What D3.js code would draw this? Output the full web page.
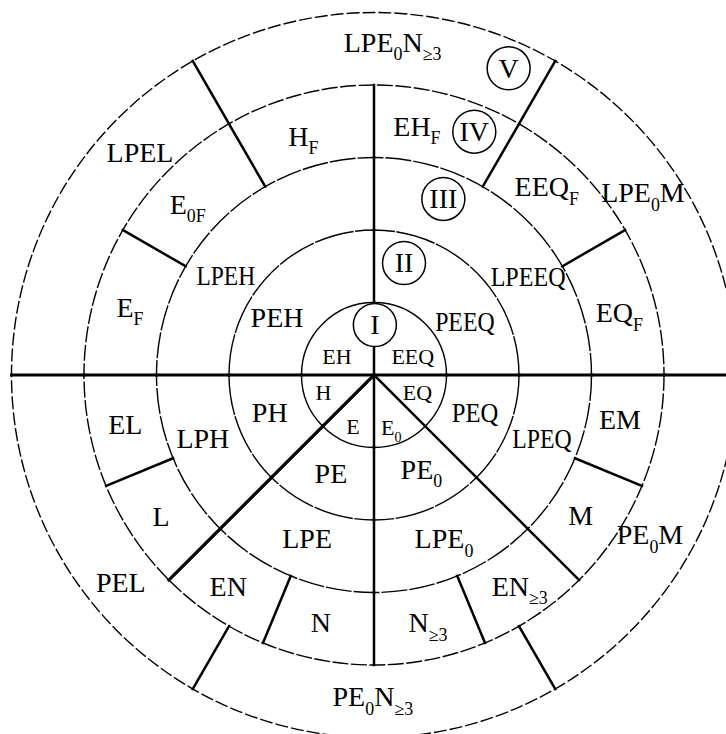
<!DOCTYPE html>
<html><head><meta charset="utf-8">
<script src="https://cdn.jsdelivr.net/npm/d3@7"></script>
<style>html,body{margin:0;padding:0;background:#fff;} svg{display:block;}</style>
</head><body>
<svg id="chart" width="726" height="734"></svg>
<script>
// ---- data: concentric rings I..V, sector boundaries (deg, clockwise from top) and sector labels
const ringNames = ["I", "II", "III", "IV", "V"];
const ring1Bounds = [0, 90, 135, 180, 225, 270];
const ring1Labels = ["EEQ", "EQ", "E_{0}", "E", "H", "EH"];
const ring2Bounds = [0, 90, 135, 180, 225, 270];
const ring2Labels = ["PEEQ", "PEQ", "PE_{0}", "PE", "PH", "PEH"];
const ring3Bounds = [0, 90, 135, 180, 225, 270];
const ring3Labels = ["LPEEQ", "LPEQ", "LPE_{0}", "LPE", "LPH", "LPEH"];
const ring4Bounds = [0, 30, 60, 90, 112.5, 135, 157.5, 180, 202.5, 225, 247.5, 270, 300, 330];
const ring4Labels = ["EH_{F}", "EEQ_{F}", "EQ_{F}", "EM", "M", "EN_{≥3}", "N_{≥3}", "N", "EN", "L", "EL", "E_{F}", "E_{0F}", "H_{F}"];
const ring5Bounds = [-30, 30, 90, 150, 210, 270];
const ring5Labels = ["LPE_{0}N_{≥3}", "LPE_{0}M", "PE_{0}M", "PE_{0}N_{≥3}", "PEL", "LPEL"];

// ---- layout: label placement (angle deg, radius in ring units, horizontal squeeze)
const ring1Place = [[65, 0.59, 1], [112.7, 0.65, 1], [162, 0.77, 1], [202, 0.77, 1], [250.6, 0.74, 1], [296, 0.57, 1]];
const ring2Place = [[59.8, 1.45, 0.85], [110.6, 1.49, 0.88], [153.4, 1.46, 1], [203.5, 1.49, 1], [250, 1.53, 1], [300.4, 1.55, 1]];
const ring3Place = [[57.5, 2.52, 0.86], [110.9, 2.48, 0.85], [156.9, 2.46, 1], [202.2, 2.44, 1], [249.5, 2.52, 1], [303.8, 2.46, 0.84]];
const ring4Place = [[9.8, 3.48, 1], [42.6, 3.52, 1], [75.8, 3.49, 1], [100.4, 3.45, 1], [124.3, 3.45, 1], [145.4, 3.54, 1], [167.7, 3.5, 1],
                    [192.1, 3.5, 1], [214.6, 3.54, 1], [236.3, 3.53, 1], [258.6, 3.5, 1], [285.4, 3.49, 1], [312.4, 3.48, 1], [343.5, 3.43, 1]];
const ring5Place = [[3.2, 4.59, 1], [55.9, 4.48, 1], [120.1, 4.4, 1], [180.2, 4.44, 1], [230.6, 4.52, 1], [313.5, 4.45, 1]];
const romanPlace = [[1, 0.69], [15, 1.6], [21.5, 2.61], [22.4, 3.63], [23.7, 4.62]];

const cx = 374, cy = 375;
const svg = d3.select("#chart");
const g = svg.append("g").attr("transform", `translate(${cx},${cy})`);
const rScale = d3.scaleLinear().domain([0, 5]).range([0, 362.5]);
const rad = d => d * Math.PI / 180;
const pt = (deg, r) => d3.pointRadial(rad(deg), r);

const rings = [
  {bounds: ring1Bounds, labels: ring1Labels, place: ring1Place},
  {bounds: ring2Bounds, labels: ring2Labels, place: ring2Place},
  {bounds: ring3Bounds, labels: ring3Labels, place: ring3Place},
  {bounds: ring4Bounds, labels: ring4Labels, place: ring4Place},
  {bounds: ring5Bounds, labels: ring5Labels, place: ring5Place}
];

// circles
const dashes = [null, "40,1.5", "26,2", "16,2.5", "13,3"];
g.selectAll("circle.ring").data(d3.range(1, 6)).join("circle")
  .attr("class", "ring").attr("r", d => rScale(d))
  .attr("fill", "none").attr("stroke", "#000").attr("stroke-width", 1.4)
  .attr("stroke-dasharray", d => dashes[d - 1]);

// radial boundary lines
const segs = [];
rings.forEach((ring, i) => ring.bounds.forEach(a => segs.push({a: a, r0: rScale(i), r1: rScale(i + 1)})));
const lw = a => { const n = ((a % 360) + 360) % 360; return (n === 90 || n === 270) ? 3 : (n === 225 ? 3.2 : 2.5); };
g.selectAll("line.rad").data(segs).join("line")
  .attr("class", "rad")
  .attr("x1", d => pt(d.a, d.r0)[0]).attr("y1", d => pt(d.a, d.r0)[1])
  .attr("x2", d => pt(d.a, d.r1)[0]).attr("y2", d => pt(d.a, d.r1)[1])
  .attr("stroke", "#000").attr("stroke-width", d => lw(d.a)).attr("stroke-linecap", "square");

// label parsing: "LPE_{0}N_{≥3}"
function parse(s) {
  const out = []; const re = /_\{([^}]*)\}|([^_]+)/g; let m;
  while ((m = re.exec(s))) { if (m[1] !== undefined) out.push({t: m[1], sub: true}); else out.push({t: m[2], sub: false}); }
  return out;
}
const fontFam = "'Liberation Serif', 'Times New Roman', serif";
function drawLabel(label, deg, ru, sx, fs) {
  const p = pt(deg, rScale(ru));
  const t = g.append("g").attr("transform", `translate(${p[0]},${p[1]}) scale(${sx},1)`)
    .append("text").attr("x", 0).attr("y", 0.33 * fs)
    .attr("text-anchor", "middle").attr("font-family", fontFam).attr("font-size", fs).attr("fill", "#000");
  let shifted = false;
  parse(label).forEach(part => {
    const ts = t.append("tspan").text(part.t);
    if (part.sub) {
      ts.attr("font-size", fs * 0.64).attr("dy", shifted ? 0 : fs * 0.3);
      shifted = true;
    } else {
      if (shifted) ts.attr("dy", -fs * 0.3);
      shifted = false;
    }
  });
}

rings.forEach((ring, i) => {
  const fs = i === 0 ? 22 : 28;
  ring.labels.forEach((lab, j) => drawLabel(lab, ring.place[j][0], ring.place[j][1], ring.place[j][2], fs));
});

// Roman numeral ring markers
ringNames.forEach((nm, i) => {
  const p = pt(romanPlace[i][0], rScale(romanPlace[i][1]));
  g.append("circle").attr("cx", p[0]).attr("cy", p[1]).attr("r", 21.5)
    .attr("fill", "#fff").attr("stroke", "#000").attr("stroke-width", 1.5);
  g.append("text").attr("x", p[0]).attr("y", p[1] + 9.5).attr("text-anchor", "middle")
    .attr("font-family", fontFam).attr("font-size", 28).text(nm);
});
</script>
</body></html>
